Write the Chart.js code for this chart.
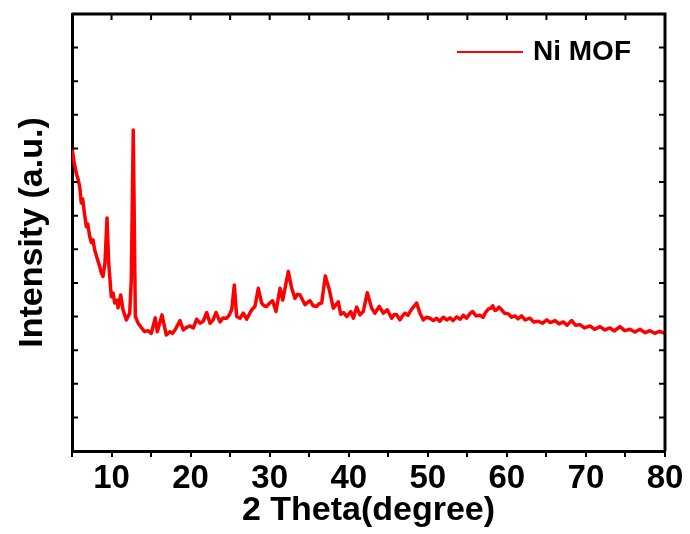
<!DOCTYPE html>
<html>
<head>
<meta charset="utf-8">
<script src="https://cdn.jsdelivr.net/npm/chart.js@4"></script>
<style>
  html, body { margin: 0; padding: 0; background: #fff; }
  #wrap { width: 690px; height: 534px; }
</style>
</head>
<body>
<div id="wrap"><canvas id="xrdChart"></canvas></div>
<script>
// XRD pattern of Ni MOF (2 theta in degrees, intensity in arbitrary units)
const seriesLabel = 'Ni MOF';
const theta = [
  5.00, 5.25, 5.54, 5.75, 5.97, 6.18, 6.35, 6.52, 6.81, 7.00, 7.24, 7.45, 7.66, 7.87, 8.20, 8.50,
  8.70, 8.92, 9.17, 9.43, 9.64, 9.97, 10.20, 10.40, 10.73, 10.82, 11.16, 11.45, 11.87, 12.30,
  12.50, 12.75, 13.01, 13.35, 13.75, 14.19, 14.60, 15.03, 15.53, 15.79, 16.38, 16.93, 17.39,
  17.70, 18.03, 18.66, 19.08, 19.50, 19.92, 20.35, 20.77, 21.19, 21.60, 22.04, 22.45, 22.85,
  23.21, 23.72, 24.10, 24.56, 24.90, 25.20, 25.53, 25.83, 26.25, 26.66, 27.09, 27.40, 27.73,
  28.14, 28.56, 28.99, 29.30, 29.62, 30.00, 30.38, 30.80, 31.31, 31.65, 31.94, 32.36, 32.79,
  33.20, 33.50, 33.84, 34.15, 34.47, 34.80, 35.10, 35.50, 35.95, 36.25, 36.58, 37.04, 37.54,
  38.05, 38.35, 38.68, 38.99, 39.35, 39.74, 40.25, 40.58, 41.01, 41.42, 41.84, 42.35, 42.90,
  43.32, 43.86, 44.37, 44.88, 45.43, 45.75, 46.07, 46.48, 46.80, 47.11, 47.50, 47.96, 48.59,
  49.01, 49.43, 49.85, 50.28, 50.70, 51.12, 51.50, 51.96, 52.40, 52.81, 53.20, 53.65, 54.10,
  54.49, 54.90, 55.30, 55.68, 56.10, 56.60, 57.00, 57.30, 57.65, 58.00, 58.21, 58.50, 58.71,
  59.00, 59.34, 59.70, 60.18, 60.60, 61.03, 61.40, 61.87, 62.30, 62.92, 63.40, 63.97, 64.50,
  65.04, 65.50, 66.09, 66.60, 67.13, 67.60, 68.20, 68.70, 69.25, 69.80, 70.51, 71.10, 71.78,
  72.40, 73.04, 73.60, 74.31, 74.90, 75.57, 76.20, 76.84, 77.50, 78.10, 78.70, 79.30, 80.00
];
const intensity = [
  9.02, 8.62, 8.26, 8.10, 7.87, 7.38, 7.50, 7.17, 6.67, 6.75, 6.38, 6.20, 6.28, 5.98, 5.72, 5.49,
  5.30, 5.19, 5.60, 6.93, 5.60, 4.59, 4.70, 4.40, 4.49, 4.26, 4.64, 4.20, 3.90, 4.10,
  5.10, 9.55, 4.00, 3.81, 3.68, 3.55, 3.58, 3.50, 3.96, 3.55, 4.05, 3.45, 3.55,
  3.50, 3.60, 3.88, 3.60, 3.68, 3.72, 3.66, 3.92, 3.80, 3.86, 4.12, 3.80, 3.90,
  4.12, 3.84, 3.96, 3.95, 4.05, 4.20, 4.94, 4.00, 3.95, 4.10, 3.92, 4.06, 4.20,
  4.30, 4.84, 4.40, 4.32, 4.30, 4.40, 4.47, 4.15, 4.84, 4.49, 4.84, 5.34, 4.84,
  4.54, 4.66, 4.64, 4.50, 4.35, 4.42, 4.47, 4.32, 4.30, 4.38, 4.40, 5.21, 4.80,
  4.25, 4.34, 4.44, 4.07, 4.12, 4.00, 4.15, 3.95, 4.28, 4.05, 4.15, 4.71, 4.25,
  4.10, 4.30, 4.10, 4.20, 3.95, 4.06, 4.05, 3.90, 4.02, 4.10, 4.04, 4.22, 4.40,
  4.10, 3.90, 3.98, 3.95, 3.88, 3.95, 3.86, 3.98, 3.90, 3.96, 3.88, 3.99, 3.92,
  4.04, 3.95, 4.08, 4.15, 4.02, 4.04, 3.98, 4.12, 4.22, 4.25, 4.32, 4.18, 4.20,
  4.28, 4.20, 4.10, 4.08, 3.98, 4.02, 3.93, 4.02, 3.90, 3.95, 3.84, 3.86, 3.80,
  3.90, 3.82, 3.88, 3.78, 3.84, 3.74, 3.88, 3.74, 3.76, 3.66, 3.72, 3.62, 3.70,
  3.60, 3.66, 3.57, 3.70, 3.58, 3.62, 3.54, 3.62, 3.52, 3.58, 3.50, 3.56, 3.50
];
const xTitle = '2 Theta(degree)';
const yTitle = 'Intensity (a.u.)';

const fontFamily = '"Liberation Sans", Arial, sans-serif';

// top and right frame lines with inward ticks, plus inward ticks on the left axis
const framePlugin = {
  id: 'frame',
  afterDatasetsDraw(chart) {
    const { ctx, chartArea: a, scales: { x, y } } = chart;
    ctx.save();
    ctx.strokeStyle = '#000';
    ctx.lineWidth = 3;
    ctx.beginPath();
    ctx.moveTo(a.left, a.top);
    ctx.lineTo(a.right, a.top);
    ctx.lineTo(a.right, a.bottom);
    ctx.stroke();
    ctx.lineWidth = 2;
    ctx.beginPath();
    x.ticks.forEach(t => {
      const px = x.getPixelForValue(t.value);
      ctx.moveTo(px, a.top);
      ctx.lineTo(px, a.top + 6);
    });
    y.ticks.forEach(t => {
      const py = y.getPixelForValue(t.value);
      ctx.moveTo(a.left, py);
      ctx.lineTo(a.left + 6, py);
      ctx.moveTo(a.right, py);
      ctx.lineTo(a.right - 6, py);
    });
    ctx.stroke();
    ctx.restore();
  }
};

// legend inside the plot, top right
const insideLegend = {
  id: 'insideLegend',
  afterDraw(chart) {
    const { ctx, chartArea: a } = chart;
    const ds = chart.data.datasets[0];
    const yMid = a.top + 38;
    ctx.save();
    ctx.strokeStyle = ds.borderColor;
    ctx.lineWidth = 2;
    ctx.beginPath();
    ctx.moveTo(a.right - 208, yMid);
    ctx.lineTo(a.right - 142, yMid);
    ctx.stroke();
    ctx.fillStyle = '#000';
    ctx.font = 'bold 28px ' + fontFamily;
    ctx.textBaseline = 'middle';
    ctx.fillText(ds.label, a.right - 132, yMid);
    ctx.restore();
  }
};

const ctx = document.getElementById('xrdChart').getContext('2d');
new Chart(ctx, {
  type: 'line',
  data: {
    datasets: [{
      label: seriesLabel,
      data: theta.map((t, i) => ({ x: t, y: intensity[i] })),
      borderColor: '#ff0000',
      borderWidth: 3.5,
      borderJoinStyle: 'round',
      pointRadius: 0,
      fill: false,
      tension: 0
    }]
  },
  options: {
    responsive: true,
    maintainAspectRatio: false,
    animation: false,
    layout: { padding: { top: 14, right: 25, left: 0, bottom: 0 } },
    plugins: {
      legend: { display: false },
      tooltip: { enabled: false }
    },
    scales: {
      x: {
        type: 'linear',
        min: 5,
        max: 80,
        afterFit(scale) { scale.height = 83; },
        ticks: {
          stepSize: 5,
          autoSkip: false,
          maxRotation: 0,
          padding: 2,
          color: '#000',
          font: { family: fontFamily, size: 33, weight: 'bold' },
          callback: v => (v % 10 === 0 ? v : '')
        },
        grid: {
          drawOnChartArea: false,
          drawTicks: true,
          tickLength: 6,
          color: '#000',
          lineWidth: 2
        },
        border: { display: true, color: '#000', width: 3 },
        title: {
          display: true,
          text: xTitle,
          color: '#000',
          font: { family: fontFamily, size: 34, weight: 'bold' },
          padding: { top: 0, bottom: 3 }
        }
      },
      y: {
        min: 0,
        max: 13,
        afterFit(scale) { scale.width = 72; },
        ticks: { display: false, stepSize: 1 },
        grid: { display: false },
        border: { display: true, color: '#000', width: 3 },
        title: {
          display: true,
          text: yTitle,
          color: '#000',
          font: { family: fontFamily, size: 34, weight: 'bold' },
          padding: { top: 12, bottom: 0 }
        }
      }
    }
  },
  plugins: [framePlugin, insideLegend]
});
</script>
</body>
</html>
